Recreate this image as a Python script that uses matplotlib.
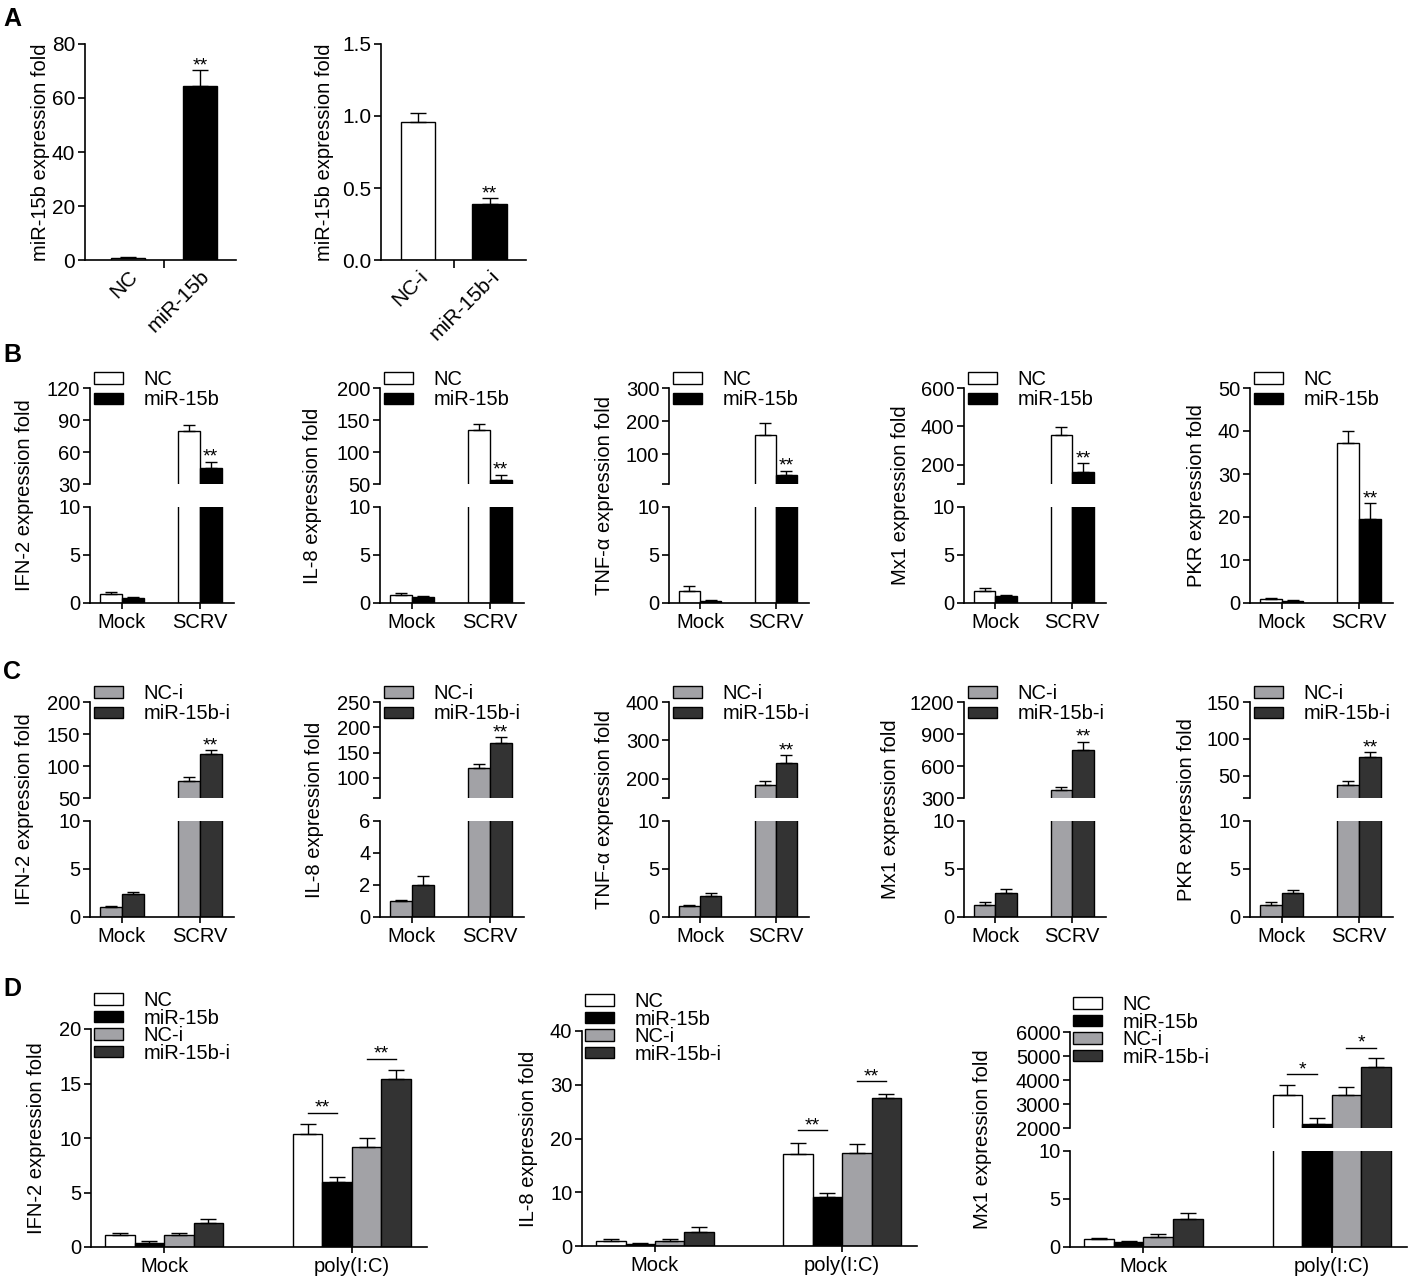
import numpy as np
import matplotlib
matplotlib.use('Agg')
import matplotlib.pyplot as plt
from matplotlib.patches import Patch

plt.rcParams['font.family'] = ['Liberation Sans', 'DejaVu Sans']
plt.rcParams['axes.linewidth'] = 1.2
plt.rcParams['xtick.major.width'] = 1.2
plt.rcParams['ytick.major.width'] = 1.2
plt.rcParams['xtick.minor.width'] = 1.2

# =============================================================================
    # Data
# =============================================================================
# A - miR-15b level after mimic / inhibitor
a_over_labels = ['NC', 'miR-15b']
a_over_mean = [0.9, 64.3]
a_over_err = [0.3, 6.0]
a_inh_labels = ['NC-i', 'miR-15b-i']
a_inh_mean = [0.96, 0.39]
a_inh_err = [0.06, 0.04]

# B, C - genes after SCRV infection, rows = genes, cols = [Mock, SCRV]
genes = ['IFN-2', 'IL-8', 'TNF-α', 'Mx1', 'PKR']
infections = ['Mock', 'SCRV']

b_nc_mean = [[0.95, 79.3], [0.85, 133.6], [1.3, 159], [1.2, 357], [1.0, 37.3]]
b_nc_err = [[0.15, 6.2], [0.2, 10.5], [0.45, 34], [0.35, 40], [0.2, 2.8]]
b_mir_mean = [[0.5, 45], [0.65, 57], [0.25, 37.5], [0.7, 162], [0.5, 19.5]]
b_mir_err = [[0.08, 6], [0.1, 7.5], [0.1, 12.5], [0.1, 45], [0.1, 3.8]]

c_nci_mean = [[1.0, 77.3], [1.0, 120], [1.1, 184], [1.25, 371], [1.2, 37.5]]
c_nci_err = [[0.1, 6.2], [0.05, 8], [0.2, 11], [0.3, 32], [0.35, 5]]
c_miri_mean = [[2.35, 118.6], [2.0, 168.6], [2.15, 241], [2.55, 751], [2.45, 75.5]]
c_miri_err = [[0.3, 6.2], [0.55, 12.4], [0.3, 20], [0.35, 78], [0.35, 6.8]]

# D - poly(I:C), rows = [Mock, poly(I:C)], cols = groups
treatments = ['Mock', 'poly(I:C)']
d_groups = ['NC', 'miR-15b', 'NC-i', 'miR-15b-i']
d_ifn_mean = [[1.07, 0.4, 1.07, 2.24], [10.34, 5.92, 9.2, 15.4]]
d_ifn_err = [[0.22, 0.15, 0.25, 0.34], [0.95, 0.52, 0.77, 0.86]]
d_il8_mean = [[0.93, 0.37, 0.93, 2.66], [17.2, 9.16, 17.34, 27.6]]
d_il8_err = [[0.31, 0.19, 0.31, 0.93], [2.0, 0.74, 1.66, 0.76]]
d_mx1_mean = [[0.87, 0.52, 1.04, 2.92], [3361, 2153, 3361, 4542]]
d_mx1_err = [[0.1, 0.1, 0.35, 0.66], [445, 278, 347, 375]]
d_sig_marks = [['**', '**'], ['**', '**'], ['*', '*']]
d_sig_height = [[12.33, 17.27], [21.5, 30.7], [4236, 5347]]

WHITE, BLACK, GREY, DARK = 'white', 'black', '#a2a2a6', '#333333'

# =============================================================================
    # Helpers
# =============================================================================
W, H = 1413, 1285
fig = plt.figure(figsize=(W / 100, H / 100), dpi=100)


def px_axes(x0, x1, y0, y1):
    return fig.add_axes([x0 / W, 1 - y1 / H, (x1 - x0) / W, (y1 - y0) / H])


def ylabel(x, y, text):
    fig.text(x / W, 1 - y / H, text, rotation=90, ha='center', va='center', fontsize=14.5)


def clean(ax, bottom=True):
    ax.spines['top'].set_visible(False)
    ax.spines['right'].set_visible(False)
    ax.tick_params(axis='y', length=5, labelsize=14.5, pad=2)
    if bottom:
        ax.tick_params(axis='x', length=4.5, labelsize=14.5, pad=3)
    else:
        ax.spines['bottom'].set_visible(False)
        ax.tick_params(axis='x', length=0, labelbottom=False)


def draw_bars(ax, means, errs, colors, width, capsize):
    n = len(means)
    x = np.arange(len(means[0]))
    for i in range(n):
        xs = x + (i - (n - 1) / 2) * width
        ax.bar(xs, means[i], width, color=colors[i], edgecolor='black', linewidth=1.0, zorder=2)
        ax.errorbar(xs, means[i], yerr=[np.zeros(len(means[i])), errs[i]], fmt='none',
                    ecolor='black', elinewidth=1.0, capsize=capsize, capthick=1.0, zorder=3)


def star(ax, x, y, text):
    ax.annotate(text, xy=(x, y), xytext=(0, -3), textcoords='offset points',
                ha='center', va='bottom', fontsize=14, annotation_clip=False)


def legend(ax, labels, colors, x, y, spacing):
    handles = [Patch(facecolor=c, edgecolor='black', linewidth=1.0) for c in colors]
    ax.legend(handles, labels, loc='upper left', bbox_to_anchor=(x / W, 1 - y / H),
              bbox_transform=fig.transFigure, frameon=False, fontsize=14.5,
              handlelength=1.45, handleheight=0.5, handletextpad=1.0,
              labelspacing=spacing, borderpad=0, borderaxespad=0)


def set_ticks(ax, lo, hi, labelled):
    ticks = sorted(set([lo] + list(labelled)))
    ax.set_ylim(lo, hi)
    ax.set_yticks(ticks)
    ax.set_yticklabels([str(t) if t in labelled else '' for t in ticks])


# =============================================================================
    # A
# =============================================================================
fig.text(3 / W, 1 - 26 / H, 'A', fontsize=18, fontweight='bold')

ax = px_axes(85, 236, 44, 260)
clean(ax)
x = np.arange(2)
ax.bar(x, a_over_mean, 0.48, color=[WHITE, BLACK], edgecolor='black', linewidth=1.0, zorder=2)
ax.errorbar(x, a_over_mean, yerr=[np.zeros(2), a_over_err], fmt='none', ecolor='black',
            elinewidth=1.0, capsize=6, capthick=1.0, zorder=3)
star(ax, 1, a_over_mean[1] + a_over_err[1], '**')
ax.set_xlim(-0.6, 1.5)
ax.set_ylim(0, 80)
ax.set_yticks([0, 20, 40, 60, 80])
ax.tick_params(axis='y', labelsize=15)
ax.set_xticks(x)
ax.set_xticklabels(a_over_labels, rotation=45, ha='right', rotation_mode='anchor', fontsize=15)
ax.tick_params(axis='x', which='major', length=0, pad=5)
ax.set_xticks([0.5], minor=True)
ax.tick_params(axis='x', which='minor', length=6)
ylabel(41, 152, 'miR-15b expression fold')

ax = px_axes(381, 526, 44, 260)
clean(ax)
ax.bar(x, a_inh_mean, 0.48, color=[WHITE, BLACK], edgecolor='black', linewidth=1.0, zorder=2)
ax.errorbar(x, a_inh_mean, yerr=[np.zeros(2), a_inh_err], fmt='none', ecolor='black',
            elinewidth=1.0, capsize=6, capthick=1.0, zorder=3)
star(ax, 1, a_inh_mean[1] + a_inh_err[1], '**')
ax.set_xlim(-0.52, 1.51)
ax.set_ylim(0, 1.5)
ax.set_yticks([0, 0.5, 1.0, 1.5])
ax.set_yticklabels(['0.0', '0.5', '1.0', '1.5'])
ax.tick_params(axis='y', labelsize=15)
ax.set_xticks(x)
ax.set_xticklabels(a_inh_labels, rotation=45, ha='right', rotation_mode='anchor', fontsize=15)
ax.tick_params(axis='x', which='major', length=0, pad=5)
ax.set_xticks([0.5], minor=True)
ax.tick_params(axis='x', which='minor', length=6)
ylabel(324, 152, 'miR-15b expression fold')

# =============================================================================
    # B and C - two bars per infection, broken y axis
# =============================================================================
col_x = [(90, 234), (380, 524), (669, 809), (964, 1106), (1250, 1393)]
bw = 0.28

# (top lo, top hi, labelled ticks) of upper segment; None = no break
b_top = [(30, 120, [30, 60, 90, 120]), (50, 200, [50, 100, 150, 200]),
         (10, 300, [100, 200, 300]), (100, 600, [200, 400, 600]), None]
c_top = [(50, 200, [50, 100, 150, 200]), (60, 250, [100, 150, 200, 250]),
         (150, 400, [200, 300, 400]), (300, 1200, [300, 600, 900, 1200]),
         (20, 150, [50, 100, 150])]
c_low = [(10, [0, 5, 10]), (6, [0, 2, 4, 6]), (10, [0, 5, 10]), (10, [0, 5, 10]), (10, [0, 5, 10])]
b_label_x = [25, 313, 605, 900, 1196]
c_label_x = [25, 315, 605, 890, 1187]


def row(y_top, y_low, tops, lows, m1, e1, m2, e2, colors, leg_labels, leg_y, label_x):
    for i, gene in enumerate(genes):
        x0, x1 = col_x[i]
        means, errs = [m1[i], m2[i]], [e1[i], e2[i]]
        if tops[i] is None:
            ax = px_axes(x0, x1, y_top[0], y_low[1])
            clean(ax)
            draw_bars(ax, means, errs, colors, bw, 4.5)
            ax.set_ylim(0, 50)
            ax.set_yticks(range(0, 51, 10))
            top_ax = bot_ax = ax
        else:
            top_ax = px_axes(x0, x1, y_top[0], y_top[1])
            bot_ax = px_axes(x0, x1, y_low[0], y_low[1])
            clean(top_ax, bottom=False)
            clean(bot_ax)
            for a in (top_ax, bot_ax):
                draw_bars(a, means, errs, colors, bw, 4.5)
            set_ticks(top_ax, *tops[i])
            bot_ax.set_ylim(0, lows[i][0])
            bot_ax.set_yticks(lows[i][1])
        for a in (top_ax, bot_ax):
            a.set_xlim(-0.41, 1.44)
        bot_ax.set_xticks([0, 1])
        bot_ax.set_xticklabels(infections)
        star(top_ax, 1 + bw / 2, m2[i][1] + e2[i][1], '**')
        legend(top_ax, leg_labels, colors, x0 + 4, leg_y, 0.07)
        ylabel(label_x[i], (y_top[0] + y_low[1]) / 2, gene + ' expression fold')


b_low = [(10, [0, 5, 10])] * 5
fig.text(3 / W, 1 - 362 / H, 'B', fontsize=18, fontweight='bold')
row((388, 484), (507, 603), b_top, b_low, b_nc_mean, b_nc_err, b_mir_mean, b_mir_err,
    [WHITE, BLACK], ['NC', 'miR-15b'], 370, b_label_x)

fig.text(3 / W, 1 - 679 / H, 'C', fontsize=18, fontweight='bold')
row((702, 798), (821, 917), c_top, c_low, c_nci_mean, c_nci_err, c_miri_mean, c_miri_err,
    [GREY, DARK], ['NC-i', 'miR-15b-i'], 684, c_label_x)

# =============================================================================
    # D - poly(I:C), four groups
# =============================================================================
fig.text(3 / W, 1 - 996 / H, 'D', fontsize=18, fontweight='bold')
dw = 0.157
d_colors = [WHITE, BLACK, GREY, DARK]
d_sets = [
    ('IFN-2', d_ifn_mean, d_ifn_err, (91, 427), (1029, 1247), None, (0, 20, range(0, 21, 5)), 991, 37),
    ('IL-8', d_il8_mean, d_il8_err, (582, 917), (1031, 1246), None, (0, 40, range(0, 41, 10)), 992, 528),
    ('Mx1', d_mx1_mean, d_mx1_err, (1070, 1407), (1032, 1128), (1151, 1247),
     (2000, 6000, range(2000, 6001, 1000)), 995, 983),
]

for k, (gene, mean, err, xs, ya, yb, lim, leg_y, lab_x) in enumerate(d_sets):
    means = np.array(mean).T
    errs = np.array(err).T
    if yb is None:
        ax = px_axes(xs[0], xs[1], ya[0], ya[1])
        clean(ax)
        draw_bars(ax, means, errs, d_colors, dw, 5.5)
        ax.set_ylim(lim[0], lim[1])
        ax.set_yticks(list(lim[2]))
        top_ax = bot_ax = ax
        mid = (ya[0] + ya[1]) / 2
    else:
        top_ax = px_axes(xs[0], xs[1], ya[0], ya[1])
        bot_ax = px_axes(xs[0], xs[1], yb[0], yb[1])
        clean(top_ax, bottom=False)
        clean(bot_ax)
        for a in (top_ax, bot_ax):
            draw_bars(a, means, errs, d_colors, dw, 5.5)
        top_ax.set_ylim(lim[0], lim[1])
        top_ax.set_yticks(list(lim[2]))
        bot_ax.set_ylim(0, 10)
        bot_ax.set_yticks([0, 5, 10])
        mid = (ya[0] + yb[1]) / 2
    for a in (top_ax, bot_ax):
        a.set_xlim(-0.39, 1.40)
    bot_ax.set_xticks([0, 1])
    bot_ax.set_xticklabels(treatments)

    # significance brackets over poly(I:C): NC vs miR-15b, NC-i vs miR-15b-i
    for j in range(2):
        xa = 1 + (2 * j - 1.5) * dw
        xb = 1 + (2 * j - 0.5) * dw
        h = d_sig_height[k][j]
        top_ax.plot([xa, xb], [h, h], color='black', lw=1.0, clip_on=False)
        star(top_ax, (xa + xb) / 2, h, d_sig_marks[k][j])

    legend(top_ax, d_groups, d_colors, xs[0] + 3, leg_y, -0.07)
    ylabel(lab_x, mid, gene + ' expression fold')

fig.savefig('out.png', dpi=100)
